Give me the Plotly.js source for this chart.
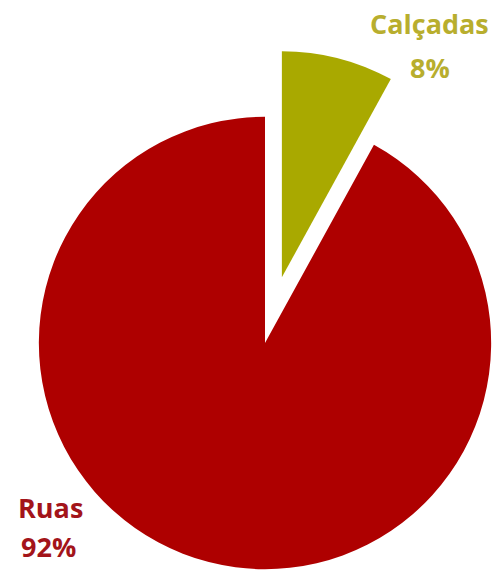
<!DOCTYPE html>
<html>
<head>
<meta charset="utf-8">
<script src="https://cdn.plot.ly/plotly-3.0.1.min.js"></script>
<style>
  html, body { margin: 0; padding: 0; overflow: hidden; background: #ffffff; width: 497px; height: 572px; }
  #chart { position: absolute; left: -29px; top: 0px; width: 620px; height: 640px; }
</style>
</head>
<body>
<div id="chart"></div>
<script>
// Data
const categories = ["Calçadas", "Ruas"];
const values = [8, 92];
const percentLabels = ["8%", "92%"];
const sliceColors = ["#A9A900", "#AE0000"];
const labelColors = ["#B8AE2E", "#A3141A"];
const pulls = [0.30, 0];

// Layout geometry (pixels within the chart div)
const W = 620, H = 640;
const pieCx = 265 + 29, pieCy = 343;   // center within div
const pieBox = 588;
const domX = [(pieCx - pieBox / 2) / W, (pieCx + pieBox / 2) / W];
const domY = [1 - (pieCy + pieBox / 2) / H, 1 - (pieCy - pieBox / 2) / H];

const px = (x) => (x + 29) / W;
const py = (y) => 1 - y / H;

const labelPos = [
  { name: [429, 24], pct: [430, 68] },
  { name: [50, 507], pct: [48, 546] }
];

const annotations = [];
categories.forEach((c, i) => {
  annotations.push({
    xref: "paper", yref: "paper", x: px(labelPos[i].name[0]), y: py(labelPos[i].name[1]),
    xanchor: "center", yanchor: "middle", showarrow: false,
    text: "<b>" + c + "</b>",
    font: { family: "'Open Sans', sans-serif", size: 27, color: labelColors[i] }
  });
  annotations.push({
    xref: "paper", yref: "paper", x: px(labelPos[i].pct[0]), y: py(labelPos[i].pct[1]),
    xanchor: "center", yanchor: "middle", showarrow: false,
    text: "<b>" + percentLabels[i] + "</b>",
    font: { family: "'Open Sans', sans-serif", size: 27, color: labelColors[i] }
  });
});

const trace = {
  type: "pie",
  labels: categories,
  values: values,
  sort: false,
  direction: "clockwise",
  rotation: 0,
  pull: pulls,
  marker: { colors: sliceColors, line: { color: "#ffffff", width: 0 } },
  textinfo: "none",
  hoverinfo: "skip",
  showlegend: false,
  domain: { x: domX, y: domY }
};

Plotly.newPlot("chart", [trace], {
  width: W, height: H,
  margin: { l: 0, r: 0, t: 0, b: 0 },
  paper_bgcolor: "#ffffff",
  plot_bgcolor: "#ffffff",
  showlegend: false,
  annotations: annotations
}, { staticPlot: true, displayModeBar: false });
</script>
</body>
</html>
